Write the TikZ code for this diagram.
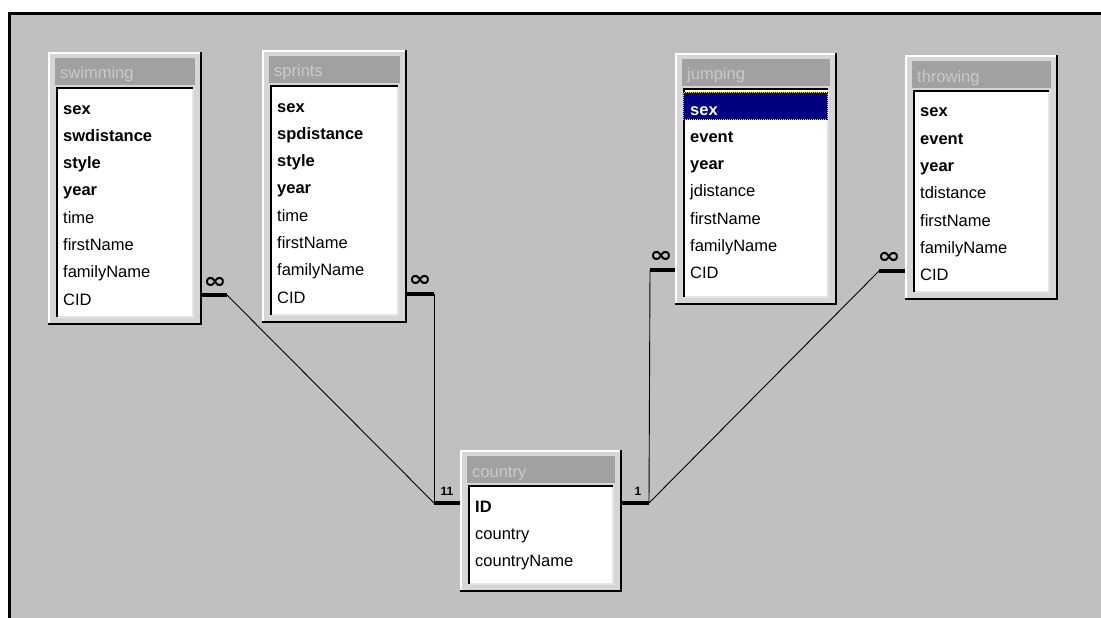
\documentclass[tikz,border=0pt]{standalone}
\usepackage{fontspec}
\setmainfont{Liberation Sans}
\newfontfamily\dejavu{DejaVu Sans}
\definecolor{bg}{HTML}{C0C0C0}
\definecolor{winface}{HTML}{D6D6D6}
\definecolor{titlebar}{HTML}{A2A0A2}
\definecolor{titlefg}{HTML}{CACACA}
\definecolor{panelshade}{HTML}{E4E4E4}
\definecolor{selblue}{HTML}{000080}
\tikzset{
  titletext/.style={anchor=base west,inner sep=0pt,text=titlefg,font=\fontsize{16.5}{18}\selectfont},
  rowtext/.style={anchor=base west,inner sep=0pt,font=\fontsize{16.5}{18}\selectfont},
  stub/.style={line width=4pt,line cap=butt},
  link/.style={line width=0.9pt},
  many/.style={inner sep=0pt,xscale=1.25,font=\dejavu\bfseries\fontsize{22}{22}\selectfont},
  one/.style={inner sep=0pt,font=\bfseries\fontsize{12}{12}\selectfont},
}
\newcommand\dbtable[8]{%
  \fill[winface] (#2,#3) rectangle (#4,#5);
  \draw[white,line width=2pt] (#2+1,#5-2) -- (#2+1,#3+1) -- (#4-2,#3+1);
  \draw[black,line width=2pt] (#2,#5-1) -- (#4-1,#5-1) -- (#4-1,#3);
  \fill[titlebar] (#2+7,#3+6) rectangle (#4-7,#3+33);
  \fill[white] (#2+9,#3+36) rectangle (#4-9,#5-8);
  \draw[panelshade,line width=2pt] (#2+9,#5-8) -- (#4-9,#5-8) -- (#4-9,#3+36);
  \draw[black,line width=1.5pt] (#2+9,#5-8) -- (#2+9,#3+36) -- (#4-9,#3+36);
  #8
  \node[titletext] (#1-title) at (#2+12,#3+27) {#6};
  \foreach \t [count=\i] in {#7} {\node[rowtext] (#1-\i) at (#2+15,{#3+62+27.3*(\i-1)}) {\t};}
}
\begin{document}
\begin{tikzpicture}[x=1pt,y=-1pt]
\useasboundingbox (0,0) rectangle (1101,618);
\fill[white] (0,0) rectangle (1101,618);
\fill[bg] (8,12) rectangle (1101,618);
\draw[black,line width=3pt] (9.5,618) -- (9.5,13.5) -- (1101,13.5);

% connectors
\coordinate (swimming-cid) at (202,295);
\coordinate (swim-k) at (227,295);
\coordinate (sprints-cid) at (407,294);
\coordinate (spr-k) at (434,294);
\coordinate (cl) at (434,503);
\coordinate (country-w) at (460,503);
\coordinate (country-e) at (622,503);
\coordinate (cr) at (649,503);
\coordinate (jumping-cid) at (675,270);
\coordinate (jmp-k) at (650,270);
\coordinate (throwing-cid) at (905,271);
\coordinate (thr-k) at (879,271);

\draw[stub] (swimming-cid) -- (swim-k);
\draw[link] (swim-k) -- (cl);
\draw[stub] (sprints-cid) -- (spr-k);
\draw[link] (spr-k) -- (cl);
\draw[stub] (cl) -- (country-w);
\draw[stub] (jumping-cid) -- (jmp-k);
\draw[link] (jmp-k) -- (cr);
\draw[stub] (throwing-cid) -- (thr-k);
\draw[link] (thr-k) -- (cr);
\draw[stub] (cr) -- (country-e);

\node[many] (inf1) at (215,283) {∞};
\node[many] (inf2) at (420,281) {∞};
\node[many] (inf3) at (661,257) {∞};
\node[many] (inf4) at (889,258) {∞};
\node[one] (one1) at (444,491) {1};
\node[one] (one2) at (450,491) {1};
\node[one] (one3) at (638,491) {1};

\dbtable{swimming}{48}{52}{202}{325}{swimming}
  {\textbf{sex},\textbf{swdistance},\textbf{style},\textbf{year},time,firstName,familyName,CID}{}
\dbtable{sprints}{262}{50}{407}{323}{sprints}
  {\textbf{sex},\textbf{spdistance},\textbf{style},\textbf{year},time,firstName,familyName,CID}{}
\dbtable{jumping}{675}{53}{837}{305}{jumping}
  {\textcolor{white}{\textbf{sex}},\textbf{event},\textbf{year},jdistance,firstName,familyName,CID}
  {\fill[selblue] (683,93) rectangle (827,119);
   \draw[black,line width=1pt] (683,93) rectangle (827,119);
   \draw[yellow,line width=1pt,dash pattern=on 1pt off 1pt] (683,93) rectangle (827,119);}
\dbtable{throwing}{905}{55}{1058}{300}{throwing}
  {\textbf{sex},\textbf{event},\textbf{year},tdistance,firstName,familyName,CID}{}
\dbtable{country}{460}{450}{622}{592}{country}
  {\textbf{ID},country,countryName}{}
\end{tikzpicture}
\end{document}
